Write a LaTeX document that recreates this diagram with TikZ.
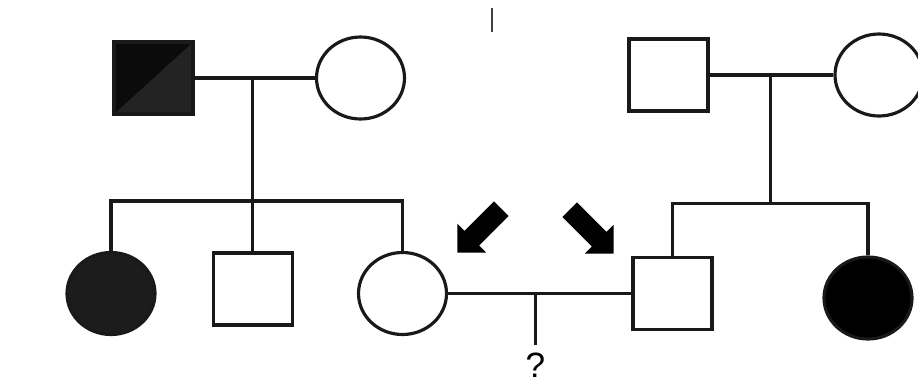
\documentclass[tikz,border=0pt]{standalone}
\usepackage{fontspec}
\setsansfont{Liberation Sans}
\usepackage{tikz}
\usepackage{xcolor}
\usetikzlibrary{shapes.geometric, shapes.arrows, positioning}
\definecolor{darkfill}{HTML}{232323}
\definecolor{darkhalf}{HTML}{0B0B0B}
\definecolor{soliddark}{HTML}{1C1C1C}
\tikzstyle{male} = [rectangle, minimum width=1.58cm, minimum height=1.44cm, draw=black!90, line width=1.8pt, fill=white, inner sep=0pt]
\tikzstyle{female} = [ellipse, minimum width=1.76cm, minimum height=1.64cm, draw=black!90, line width=1.8pt, fill=white, inner sep=0pt]
\tikzstyle{carrier} = [male, fill=darkfill, path picture={\fill[darkhalf] (path picture bounding box.north west) -- (path picture bounding box.north east) -- (path picture bounding box.south west) -- cycle;}]
\tikzstyle{affected} = [female, fill=soliddark]
\tikzstyle{pedline} = [line width=1.8pt, draw=black!90]
\tikzstyle{pointer} = [single arrow, fill=black, draw=none, minimum height=1.24cm, minimum width=0.8cm, single arrow head extend=0.2cm, single arrow tip angle=90, inner xsep=0pt, inner ysep=0.2cm]

\begin{document}
\begin{tikzpicture}[node distance=2cm]
        \useasboundingbox (0,0) rectangle (18.36,-7.70);

        \node (father1) [carrier] at (3.07,-1.56) {};
        \node (mother1) [female, right of=father1, xshift=2.14cm] {};
        \node (sib2) [male, below of=father1, xshift=1.99cm, yshift=-2.22cm] {};
        \node (sib1) [affected, left of=sib2, xshift=-0.84cm, yshift=-0.09cm] {};
        \node (sib3) [female, right of=sib2, xshift=0.99cm, yshift=-0.09cm] {};
        \node (husband) [male, right of=sib3, xshift=3.40cm] {};
        \node (sister2) [affected, fill=black, right of=husband, xshift=1.91cm, yshift=-0.09cm] {};
        \node (father2) [male, above of=husband, yshift=2.37cm, xshift=-0.08cm] {};
        \node (mother2) [female, right of=father2, xshift=2.21cm] {};

        \node (arrow1) [pointer, rotate=225] at (9.66,-4.54) {};
        \node (arrow2) [pointer, rotate=-45] at (11.76,-4.56) {};

        \coordinate (tick) at (9.84,-0.16);
        \draw [line width=0.9pt, draw=black!75] (tick) -- ++(0,-0.48);


        \draw [pedline] (father1) -- coordinate[pos=0.48] (mid1) (mother1);
        \draw [pedline] (sib1.north) -- ++(0,1.0) -| (sib3.north);
        \draw [pedline] (mid1) -- (mid1 |- sib2.north);
        \draw [pedline] (father2) -- coordinate[pos=0.49] (mid2) (mother2);
        \draw [pedline] (husband.north) -- ++(0,1.05) coordinate (sibR) -| (sister2.north);
        \draw [pedline] (mid2) -- (mid2 |- sibR);
        \draw [pedline] (sib3) -- coordinate[pos=0.476] (mid3) (husband);
        \node (query) [below=1.02cm of mid3, inner sep=0pt, outer sep=0.16cm, font=\sffamily\fontsize{20}{24}\selectfont] {?};
        \draw [pedline] (mid3) -- (query);


    \end{tikzpicture}
\end{document}
